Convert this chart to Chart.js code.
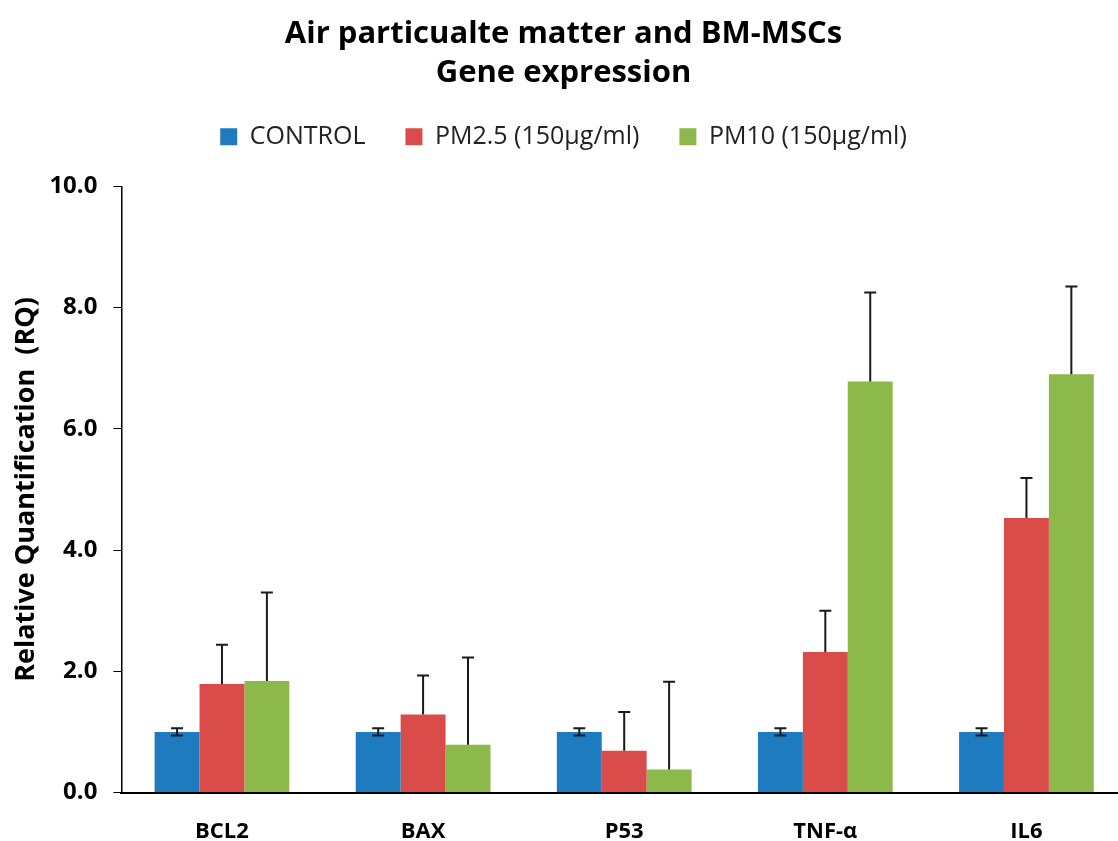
<!DOCTYPE html>
<html>
<head>
<meta charset="utf-8">
<script src="https://cdn.jsdelivr.net/npm/chart.js@4.4.0/dist/chart.umd.min.js"></script>
<style>
  html, body { margin: 0; padding: 0; background: #ffffff; overflow: hidden; }
  #wrap { width: 1127px; height: 841px; }
</style>
</head>
<body>
<div id="wrap"><canvas id="geneChart"></canvas></div>
<script>
// Gene expression data
const genes = ['BCL2', 'BAX', 'P53', 'TNF-\u03b1', 'IL6'];
const controlValues = [1.0, 1.0, 1.0, 1.0, 1.0];
const pm25Values = [1.79, 1.29, 0.69, 2.32, 4.53];
const pm10Values = [1.84, 0.79, 0.38, 6.78, 6.90];
// error bar sizes (upper)
const controlErr = [0.06, 0.06, 0.06, 0.06, 0.06];
const pm25Err = [0.65, 0.64, 0.64, 0.68, 0.66];
const pm10Err = [1.46, 1.44, 1.45, 1.47, 1.45];
const yTicks = [0, 2, 4, 6, 8, 10];

const errorSets = [
    { err: controlErr, both: true },
    { err: pm25Err, both: false },
    { err: pm10Err, both: false }
];

// ===== ERROR BAR PLUGIN =====
const errorBars = {
    id: 'errorBars',
    afterDatasetsDraw(chart) {
        const ctx = chart.ctx;
        const yScale = chart.scales.y;
        ctx.save();
        ctx.strokeStyle = '#1a1a1a';
        ctx.lineWidth = 2;
        chart.data.datasets.forEach(function(ds, i) {
            const meta = chart.getDatasetMeta(i);
            const info = errorSets[i];
            meta.data.forEach(function(bar, j) {
                const v = ds.data[j];
                const e = info.err[j];
                const x = bar.x;
                const top = yScale.getPixelForValue(v + e);
                const low = info.both ? yScale.getPixelForValue(v - e) : bar.y;
                ctx.beginPath();
                ctx.moveTo(x, low);
                ctx.lineTo(x, top);
                ctx.moveTo(x - 6, top);
                ctx.lineTo(x + 6, top);
                if (info.both) {
                    ctx.moveTo(x - 6, low);
                    ctx.lineTo(x + 6, low);
                }
                ctx.stroke();
            });
        });
        ctx.restore();
    }
};

// extra room between the legend and the plot
const legendGap = {
    id: 'legendGap',
    beforeLayout(chart) {
        const lg = chart.legend;
        if (lg && !lg._gapPatched) {
            const fit = lg.fit;
            lg.fit = function() {
                fit.call(this);
                this.height += 27;
            };
            lg._gapPatched = true;
        }
    }
};

new Chart(document.getElementById('geneChart'), {
    type: 'bar',
    data: {
        labels: genes,
        datasets: [
            { label: 'CONTROL', data: controlValues, backgroundColor: '#1f7bbf' },
            { label: 'PM2.5 (150\u00b5g/ml)', data: pm25Values, backgroundColor: '#d94c4a' },
            { label: 'PM10 (150\u00b5g/ml)', data: pm10Values, backgroundColor: '#8cb94a' }
        ]
    },
    options: {
        responsive: true,
        maintainAspectRatio: false,
        animation: false,
        datasets: { bar: { categoryPercentage: 0.67, barPercentage: 1.0 } },
        layout: { padding: { left: 0, right: 0, top: 10, bottom: -30 } },
        plugins: {
            title: {
                display: true,
                text: ['Air particualte matter and BM-MSCs', 'Gene expression'],
                color: '#000',
                font: { family: 'Open Sans', size: 31, weight: 'bold', lineHeight: 1.28 },
                padding: { top: 4, bottom: -9 }
            },
            legend: {
                position: 'top',
                labels: {
                    color: '#222',
                    font: { family: 'Open Sans', size: 25 },
                    boxWidth: 17,
                    boxHeight: 17,
                    padding: 40
                }
            },
            tooltip: { enabled: false }
        },
        scales: {
            x: {
                grid: { display: false, drawTicks: false },
                border: { color: '#000', width: 2 },
                ticks: {
                    color: '#000',
                    padding: 26,
                    font: { family: 'Open Sans', size: 22, weight: 'bold' }
                }
            },
            y: {
                min: 0,
                max: 10,
                afterBuildTicks: function(axis) {
                    axis.ticks = yTicks.map(function(v) { return { value: v }; });
                },
                grid: { drawOnChartArea: false, color: '#000', tickLength: 8 },
                border: { color: '#000', width: 1.5 },
                ticks: {
                    color: '#000',
                    padding: 16,
                    font: { family: 'Open Sans', size: 24, weight: 'bold' },
                    callback: function(v) { return Number(v).toFixed(1); }
                },
                title: {
                    display: true,
                    text: 'Relative Quantification  (RQ)',
                    color: '#000',
                    font: { family: 'Open Sans', size: 27, weight: 'bold' },
                    padding: { top: 10, bottom: -9 }
                }
            }
        }
    },
    plugins: [errorBars, legendGap]
});
</script>
</body>
</html>
